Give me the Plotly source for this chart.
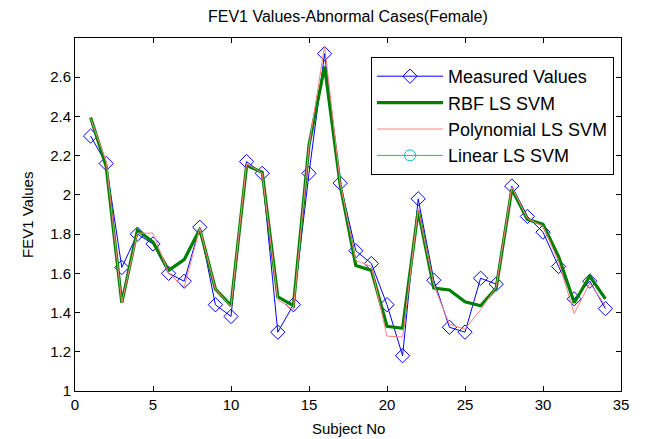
import plotly.graph_objects as go

subjects = list(range(1, 35))
measured = [2.30, 2.16, 1.63, 1.80, 1.75, 1.60, 1.56, 1.835, 1.44, 1.38,
            2.17, 2.11, 1.30, 1.44, 2.11, 2.72, 2.06, 1.715, 1.65, 1.44,
            1.18, 1.98, 1.565, 1.325, 1.30, 1.575, 1.545, 2.045, 1.89, 1.81,
            1.635, 1.47, 1.56, 1.42]
rbf = [2.395, 2.145, 1.45, 1.82, 1.76, 1.615, 1.67, 1.825, 1.52, 1.435,
       2.15, 2.115, 1.48, 1.435, 2.255, 2.655, 2.05, 1.64, 1.615, 1.33,
       1.32, 1.92, 1.525, 1.515, 1.455, 1.435, 1.525, 2.03, 1.875, 1.85,
       1.685, 1.45, 1.585, 1.47]
poly = [2.39, 2.17, 1.45, 1.805, 1.805, 1.60, 1.53, 1.83, 1.52, 1.43,
        2.16, 2.11, 1.465, 1.415, 2.25, 2.76, 2.06, 1.665, 1.635, 1.28,
        1.275, 1.93, 1.54, 1.34, 1.315, 1.415, 1.53, 2.04, 1.88, 1.84,
        1.66, 1.395, 1.55, 1.435]
linear_x = [None]
linear_y = [None]

x_ticks = [0, 5, 10, 15, 20, 25, 30, 35]
y_ticks = [1, 1.2, 1.4, 1.6, 1.8, 2, 2.2, 2.4, 2.6]
y_tick_labels = ["1", "1.2", "1.4", "1.6", "1.8", "2", "2.2", "2.4", "2.6"]

FONT = "Liberation Sans, Arial, sans-serif"

# page offset of the plot div (browser default body margin)
OFF = 8
W, H = 649 - OFF, 439 - OFF
PL, PR, PT, PB = 75, 621, 38, 391  # plot area in page pixels
plot_w = PR - PL
plot_h = PB - PT


def px_x(px):
    return (px - PL) / plot_w


def px_y(py):
    return (PB - py) / plot_h


fig = go.Figure()
fig.add_trace(go.Scatter(x=subjects, y=measured, name="Measured Values", mode="lines+markers",
                         line=dict(color="#0000FF", width=1),
                         marker=dict(symbol="diamond-open", size=11, color="#0000FF", line=dict(width=1)),
                         legendgroup="a"))
fig.add_trace(go.Scatter(x=subjects, y=rbf, name="RBF LS SVM", mode="lines",
                         line=dict(color="#008000", width=3.2), legendgroup="b"))
fig.add_trace(go.Scatter(x=subjects, y=poly, name="Polynomial LS SVM", mode="lines",
                         line=dict(color="#FF8080", width=1), legendgroup="c"))
fig.add_trace(go.Scatter(x=linear_x, y=linear_y, name="Linear LS SVM", mode="lines+markers",
                         line=dict(color="#00BFBF", width=1),
                         marker=dict(symbol="circle-open", size=11, color="#00BFBF", line=dict(width=1)),
                         legendgroup="d"))

axis_common = dict(showline=True, linecolor="black", linewidth=1, mirror="ticks",
                   ticks="inside", ticklen=5, tickcolor="black", showgrid=False, zeroline=False,
                   automargin=False,
                   tickfont=dict(family=FONT, size=15, color="black"))

fig.update_layout(
    width=W, height=H,
    margin=dict(l=PL - OFF, r=W - (PR - OFF), t=PT - OFF, b=H - (PB - OFF)),
    paper_bgcolor="white", plot_bgcolor="white",
    xaxis=dict(range=[0, 35], tickvals=x_ticks, ticktext=[str(v) for v in x_ticks], **axis_common),
    yaxis=dict(range=[1, 2.8], tickvals=y_ticks, ticktext=y_tick_labels, **axis_common),
    legend=dict(x=px_x(614), xanchor="right", y=px_y(57), yanchor="top",
                bgcolor="white", bordercolor="black", borderwidth=1,
                font=dict(family=FONT, size=18, color="black"),
                traceorder="grouped", tracegroupgap=0, itemwidth=66),
    showlegend=True,
)
fig.add_annotation(text="FEV1 Values-Abnormal Cases(Female)", xref="paper", yref="paper",
                   x=px_x(348), y=px_y(17), showarrow=False,
                   xanchor="center", yanchor="middle", font=dict(family=FONT, size=16, color="black"))
fig.add_annotation(text="Subject No", xref="paper", yref="paper",
                   x=px_x(348), y=px_y(428), showarrow=False,
                   xanchor="center", yanchor="middle", font=dict(family=FONT, size=15, color="black"))
fig.add_annotation(text="FEV1 Values", xref="paper", yref="paper", textangle=-90,
                   x=px_x(27), y=px_y(215), showarrow=False,
                   xanchor="center", yanchor="middle", font=dict(family=FONT, size=15, color="black"))

fig.write_html("out.html")
